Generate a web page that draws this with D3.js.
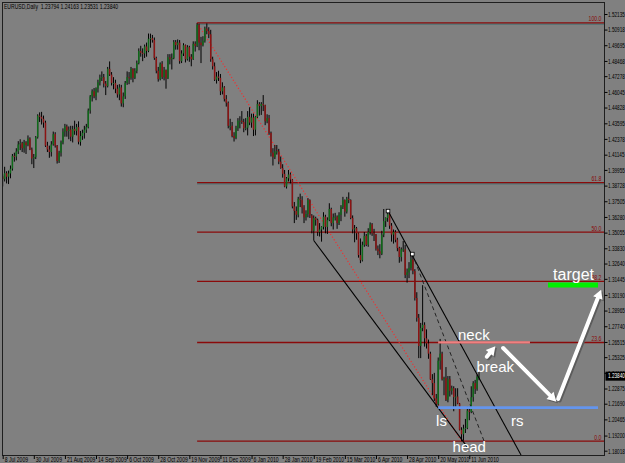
<!DOCTYPE html>
<html>
<head>
<meta charset="utf-8">
<script src="https://cdn.jsdelivr.net/npm/d3@7"></script>
<style>
  html, body { margin: 0; padding: 0; background: #808080; }
  svg { display: block; }
</style>
</head>
<body>
<svg id="chart" width="625" height="463"></svg>
<script>
// EURUSD daily, 8 Jul 2009 .. 18 Jun 2010 (one entry per trading day)
const opens = [
  1.3945,1.3925,1.3970,1.3942,1.3968,1.4005,1.4105,1.4100,1.4140,1.4195,1.4205,1.4165,1.4210,1.4190,1.4240,1.4155,1.4085,1.4095,
  1.4250,1.4420,1.4410,1.4395,1.4365,1.4185,1.4155,1.4135,1.4195,1.4275,1.4185,1.4065,1.4130,1.4210,1.4295,1.4335,1.4300,1.4310,1.4255,1.4315,1.4300,
  1.4330,1.4215,1.4260,1.4285,1.4310,1.4330,1.4460,1.4570,1.4610,1.4570,1.4630,1.4680,1.4715,1.4720,1.4670,1.4650,1.4785,1.4740,1.4675,1.4675,1.4630,1.4585,
  1.4640,1.4515,1.4570,1.4675,1.4720,1.4715,1.4785,1.4715,1.4770,1.4830,1.4925,1.4910,1.4905,1.4960,1.4925,1.5020,1.5025,1.5010,1.4870,1.4770,1.4705,1.4825,
  1.4720,1.4775,1.4710,1.4875,1.4860,1.4870,1.4995,1.4970,1.4990,1.4845,1.4905,1.4970,1.4860,1.4955,1.4880,1.4860,1.4980,1.4965,1.5130,1.4990,1.4970,
  1.5005,1.5100,1.5080,1.5055,1.4860,1.4805,1.4700,1.4725,1.4715,1.4610,1.4640,1.4550,1.4520,1.4340,1.4340,1.4260,1.4245,1.4320,1.4380,1.4380,1.4370,1.4320,
  1.4325,1.4410,1.4365,1.4405,1.4310,1.4410,1.4510,1.4495,1.4510,1.4500,1.4375,1.4400,1.4285,1.4130,1.4095,1.4140,1.4140,1.4060,1.4010,1.3965,
  1.3865,1.3930,1.3960,1.3920,1.3710,1.3675,1.3645,1.3770,1.3760,1.3700,1.3625,1.3650,1.3760,1.3640,1.3520,1.3620,1.3605,1.3510,1.3530,1.3550,
  1.3630,1.3550,1.3605,1.3690,1.3580,1.3625,1.3630,1.3580,1.3645,1.3705,1.3760,1.3670,1.3770,1.3760,1.3620,1.3530,1.3540,1.3500,1.3330,1.3290,1.3410,1.3480,1.3410,
  1.3510,1.3570,1.3500,1.3490,1.3380,1.3360,1.3340,1.3490,1.3595,1.3620,1.3650,1.3560,1.3490,1.3510,1.3450,1.3385,1.3315,1.3375,1.3375,1.3175,1.3195,1.3230,
  1.3295,1.3205,1.2995,1.2840,1.2620,1.2760,1.2785,1.2680,1.2640,1.2560,1.2360,1.2330,1.2210,1.2165,1.2505,1.2560,1.2360,1.2370,1.2200,1.2360,1.2270,
  1.2290,1.2220,1.2225,1.2170,1.1965,1.1930,1.1975,1.1980,1.2115,1.2105,1.2220,1.2330,1.2285,1.2379
];
const highs = [
  1.3960,1.4020,1.3985,1.3990,1.4030,1.4120,1.4130,1.4165,1.4220,1.4235,1.4215,1.4230,1.4220,1.4265,1.4250,1.4170,1.4120,1.4260,
  1.4430,1.4445,1.4449,1.4420,1.4380,1.4215,1.4185,1.4220,1.4295,1.4290,1.4190,1.4145,1.4225,1.4320,1.4355,1.4350,1.4335,1.4340,1.4340,1.4380,1.4355,
  1.4375,1.4300,1.4310,1.4340,1.4355,1.4475,1.4580,1.4625,1.4635,1.4640,1.4700,1.4740,1.4765,1.4745,1.4690,1.4800,1.4843,1.4760,1.4720,1.4700,1.4660,1.4665,
  1.4660,1.4600,1.4690,1.4765,1.4760,1.4800,1.4790,1.4790,1.4850,1.4945,1.4965,1.4945,1.4975,1.4990,1.5061,1.5060,1.5050,1.5030,1.4880,1.4800,1.4835,1.4845,
  1.4800,1.4780,1.4900,1.4900,1.4905,1.5010,1.5010,1.5015,1.5010,1.4930,1.4985,1.4975,1.4970,1.4965,1.4900,1.5000,1.5000,1.5144,1.5138,1.5035,1.5040,
  1.5115,1.5140,1.5110,1.5090,1.4880,1.4835,1.4760,1.4770,1.4745,1.4680,1.4650,1.4580,1.4530,1.4395,1.4370,1.4290,1.4340,1.4400,1.4415,1.4455,1.4395,1.4400,
  1.4455,1.4485,1.4435,1.4435,1.4415,1.4540,1.4525,1.4525,1.4580,1.4505,1.4430,1.4425,1.4295,1.4165,1.4190,1.4190,1.4160,1.4100,1.4040,1.3995,
  1.3940,1.3995,1.3975,1.3925,1.3745,1.3710,1.3785,1.3810,1.3790,1.3720,1.3680,1.3775,1.3765,1.3650,1.3640,1.3630,1.3615,1.3580,1.3555,1.3665,
  1.3645,1.3625,1.3735,1.3700,1.3655,1.3660,1.3640,1.3665,1.3720,1.3785,1.3765,1.3785,1.3820,1.3765,1.3640,1.3565,1.3550,1.3505,1.3460,1.3435,1.3510,1.3495,1.3540,
  1.3585,1.3580,1.3535,1.3495,1.3405,1.3415,1.3520,1.3690,1.3625,1.3690,1.3660,1.3580,1.3530,1.3525,1.3465,1.3395,1.3390,1.3440,1.3410,1.3225,1.3275,1.3350,
  1.3330,1.3220,1.3040,1.2870,1.2800,1.3095,1.2805,1.2750,1.2670,1.2575,1.2400,1.2410,1.2245,1.2530,1.2675,1.2575,1.2380,1.2455,1.2385,1.2385,1.2310,
  1.2305,1.2290,1.2290,1.2175,1.1985,1.2005,1.2050,1.2145,1.2145,1.2305,1.2345,1.2355,1.2395,1.2416
];
const lows = [
  1.3866,1.3905,1.3890,1.3885,1.3930,1.3990,1.4060,1.4070,1.4120,1.4150,1.4135,1.4130,1.4120,1.4180,1.4150,1.4040,1.4010,1.4080,
  1.4240,1.4370,1.4350,1.4325,1.4175,1.4135,1.4090,1.4100,1.4185,1.4170,1.4045,1.4050,1.4100,1.4195,1.4255,1.4255,1.4235,1.4220,1.4210,1.4270,1.4265,
  1.4195,1.4185,1.4230,1.4240,1.4285,1.4320,1.4435,1.4530,1.4555,1.4540,1.4600,1.4655,1.4690,1.4640,1.4580,1.4640,1.4730,1.4655,1.4625,1.4595,1.4560,1.4540,
  1.4490,1.4485,1.4550,1.4660,1.4665,1.4700,1.4680,1.4705,1.4750,1.4820,1.4880,1.4845,1.4870,1.4880,1.4915,1.4950,1.4990,1.4855,1.4750,1.4685,1.4695,1.4705,
  1.4695,1.4630,1.4705,1.4820,1.4780,1.4860,1.4935,1.4935,1.4825,1.4830,1.4885,1.4835,1.4850,1.4840,1.4805,1.4855,1.4920,1.4955,1.4930,1.4830,1.4960,
  1.4990,1.5055,1.5025,1.4840,1.4780,1.4690,1.4670,1.4690,1.4580,1.4585,1.4530,1.4490,1.4320,1.4305,1.4250,1.4217,1.4235,1.4300,1.4320,1.4355,1.4290,1.4305,
  1.4265,1.4345,1.4325,1.4260,1.4265,1.4400,1.4420,1.4425,1.4455,1.4345,1.4360,1.4270,1.4100,1.4030,1.4080,1.4115,1.4040,1.4005,1.3935,1.3860,
  1.3850,1.3905,1.3890,1.3695,1.3580,1.3605,1.3625,1.3705,1.3655,1.3580,1.3600,1.3625,1.3620,1.3500,1.3444,1.3560,1.3480,1.3475,1.3435,1.3530,
  1.3500,1.3495,1.3595,1.3555,1.3530,1.3600,1.3535,1.3565,1.3595,1.3690,1.3630,1.3655,1.3735,1.3610,1.3500,1.3430,1.3450,1.3310,1.3267,1.3280,1.3395,1.3400,1.3395,
  1.3490,1.3480,1.3440,1.3365,1.3330,1.3305,1.3330,1.3470,1.3550,1.3590,1.3535,1.3435,1.3420,1.3430,1.3360,1.3270,1.3280,1.3355,1.3150,1.3115,1.3150,1.3210,
  1.3180,1.2975,1.2810,1.2525,1.2525,1.2735,1.2615,1.2600,1.2520,1.2355,1.2235,1.2190,1.2145,1.2155,1.2435,1.2350,1.2235,1.2190,1.2180,1.2225,1.2240,
  1.2110,1.2145,1.2165,1.1960,1.1876,1.1880,1.1940,1.1970,1.2040,1.2095,1.2185,1.2245,1.2270,1.2353
];
const closes = [
  1.3925,1.3970,1.3942,1.3968,1.4005,1.4105,1.4100,1.4140,1.4195,1.4205,1.4165,1.4210,1.4190,1.4240,1.4155,1.4085,1.4095,1.4250,
  1.4420,1.4410,1.4395,1.4365,1.4185,1.4155,1.4135,1.4195,1.4275,1.4185,1.4065,1.4130,1.4210,1.4295,1.4335,1.4300,1.4310,1.4255,1.4315,1.4300,1.4330,
  1.4215,1.4260,1.4285,1.4310,1.4330,1.4460,1.4570,1.4610,1.4570,1.4630,1.4680,1.4715,1.4720,1.4670,1.4650,1.4785,1.4740,1.4675,1.4675,1.4630,1.4585,1.4640,
  1.4515,1.4570,1.4675,1.4720,1.4715,1.4785,1.4715,1.4770,1.4830,1.4925,1.4910,1.4905,1.4960,1.4925,1.5020,1.5025,1.5010,1.4870,1.4770,1.4705,1.4825,1.4720,
  1.4775,1.4710,1.4875,1.4860,1.4870,1.4995,1.4970,1.4990,1.4845,1.4905,1.4970,1.4860,1.4955,1.4880,1.4860,1.4980,1.4965,1.5130,1.4990,1.4970,1.5005,
  1.5100,1.5080,1.5055,1.4860,1.4805,1.4700,1.4725,1.4715,1.4610,1.4640,1.4550,1.4520,1.4340,1.4340,1.4260,1.4245,1.4320,1.4380,1.4380,1.4370,1.4320,1.4325,
  1.4410,1.4365,1.4405,1.4310,1.4410,1.4510,1.4495,1.4510,1.4500,1.4375,1.4400,1.4285,1.4130,1.4095,1.4140,1.4140,1.4060,1.4010,1.3965,1.3865,
  1.3930,1.3960,1.3920,1.3710,1.3675,1.3645,1.3770,1.3760,1.3700,1.3625,1.3650,1.3760,1.3640,1.3520,1.3620,1.3605,1.3510,1.3530,1.3550,1.3630,
  1.3550,1.3605,1.3690,1.3580,1.3625,1.3630,1.3580,1.3645,1.3705,1.3760,1.3670,1.3770,1.3760,1.3620,1.3530,1.3540,1.3500,1.3330,1.3290,1.3410,1.3480,1.3410,1.3510,
  1.3570,1.3500,1.3490,1.3380,1.3360,1.3340,1.3490,1.3595,1.3620,1.3650,1.3560,1.3490,1.3510,1.3450,1.3385,1.3315,1.3375,1.3375,1.3175,1.3195,1.3230,1.3295,
  1.3205,1.2995,1.2840,1.2620,1.2760,1.2785,1.2680,1.2640,1.2560,1.2360,1.2330,1.2210,1.2165,1.2505,1.2560,1.2360,1.2370,1.2200,1.2360,1.2270,1.2290,
  1.2220,1.2225,1.2170,1.1965,1.1930,1.1975,1.1980,1.2115,1.2105,1.2220,1.2330,1.2285,1.2380,1.2384
];

// time axis: a label every 16 bars
const dateLabels = ["8 Jul 2009","30 Jul 2009","21 Aug 2009","14 Sep 2009","6 Oct 2009","28 Oct 2009",
  "19 Nov 2009","11 Dec 2009","6 Jan 2010","28 Jan 2010","19 Feb 2010","15 Mar 2010","6 Apr 2010",
  "28 Apr 2010","20 May 2010","11 Jun 2010"];
const labelStep = 16;

const priceTicks = [1.52135,1.50918,1.49695,1.48468,1.47278,1.46045,1.44828,1.43595,1.42378,1.41145,
  1.39955,1.38728,1.37505,1.36280,1.35055,1.33830,1.32640,1.31445,1.30190,1.28965,1.27740,1.26515,
  1.25325,1.24100,1.22875,1.21690,1.20465,1.19200,1.18018];
const lastPrice = 1.23840;
const titleText = "EURUSD,Daily  1.23794 1.24163 1.23531 1.23840";

// fibo retracement, Nov 25 high -> Jun 7 low
const fibBars = [100, 236];
const fibPrices = [1.5144, 1.1876];
const fibLevels = [0, 23.6, 38.2, 50, 61.8, 100];

// drawn objects as [bar, price] points
const upperLine = [[198.2, 1.3674], [266.6, 1.1768]];
const lowerLine = [[160, 1.3444], [239, 1.1830]];
const dashLine = [[210.7, 1.3338], [247.6, 1.1877]];
const neckLine = [[224, 1.2648], [271.2, 1.2648]];
const shoulderLine = [[224, 1.2138], [306.2, 1.2138]];
const targetLine = [[280.5, 1.3096], [306.2, 1.3096]];
const arrows = [
  [[249.0, 1.2536], [253.4, 1.2618]],
  [[257.4, 1.2604], [284.8, 1.2184]],
  [[285.7, 1.2206], [307.8, 1.3060]]
];
const notes = [
  ["neck", 234.2, 1.2663],
  ["break", 243.7, 1.2420],
  ["ls", 222.9, 1.1998],
  ["rs", 261.5, 1.1998],
  ["head", 231.4, 1.1795],
  ["target", 283.1, 1.3135]
];

const W = 625, H = 463;
const plotLeft = 2.5, plotRight = 604.5, plotTop = 2.5, plotBottom = 455.5;
const font = "'Liberation Sans', Arial, sans-serif";

const svg = d3.select("#chart");

const x = d3.scaleLinear().domain([0, 240]).range([2.7, 469.3]);
const y = d3.scaleLinear().domain([priceTicks[priceTicks.length - 1], priceTicks[0]]).range([450.7, 14]);

svg.append("rect").attr("width", W).attr("height", H).attr("fill", "#808080");

svg.append("clipPath").attr("id", "plot")
  .append("rect")
  .attr("x", plotLeft).attr("y", plotTop)
  .attr("width", plotRight - plotLeft).attr("height", plotBottom - plotTop);

const plot = svg.append("g").attr("clip-path", "url(#plot)");

// fibo levels
const fibY = lv => y(fibPrices[1] + (fibPrices[0] - fibPrices[1]) * lv / 100);
fibLevels.forEach(lv => {
  if (lv === 100 || lv === 61.8) {
    plot.append("line")
      .attr("x1", x(fibBars[0])).attr("x2", plotRight)
      .attr("y1", fibY(lv) + 1.2).attr("y2", fibY(lv) + 1.2)
      .attr("stroke", "#3f6e70").attr("stroke-width", 1);
  }
  plot.append("line")
    .attr("x1", x(fibBars[0])).attr("x2", plotRight)
    .attr("y1", fibY(lv)).attr("y2", fibY(lv))
    .attr("stroke", "#8a0a0a").attr("stroke-width", 1.3);
  plot.append("text")
    .attr("transform", `translate(${plotRight - 3},${fibY(lv) - 1.5}) scale(0.8,1)`)
    .attr("text-anchor", "end")
    .attr("font-family", font).attr("font-size", 6.5)
    .attr("fill", "#8a0a0a")
    .text(lv.toFixed(1));
});

// fibo trend (dotted)
plot.append("line")
  .attr("x1", x(fibBars[0])).attr("y1", y(fibPrices[0]))
  .attr("x2", x(fibBars[1])).attr("y2", y(fibPrices[1]))
  .attr("stroke", "#f03030").attr("stroke-width", 1.2)
  .attr("stroke-dasharray", "1.2,2");

// candles
const idx = d3.range(closes.length);
const bar = plot.append("g");
bar.selectAll("line.wick").data(idx).join("line")
  .attr("class", "wick")
  .attr("x1", i => x(i)).attr("x2", i => x(i))
  .attr("y1", i => y(highs[i])).attr("y2", i => y(lows[i]))
  .attr("stroke", "#000").attr("stroke-width", 1);
bar.selectAll("rect.body").data(idx).join("rect")
  .attr("class", "body")
  .attr("x", i => x(i) - 0.75)
  .attr("width", 1.5)
  .attr("y", i => y(Math.max(opens[i], closes[i])))
  .attr("height", i => Math.max(1, Math.abs(y(opens[i]) - y(closes[i]))))
  .attr("fill", i => closes[i] >= opens[i] ? "#0f6a1a" : "#8c1414");

// trend lines
const lineGen = d3.line().x(d => x(d[0])).y(d => y(d[1]));
[upperLine, lowerLine].forEach(l => {
  plot.append("path").attr("d", lineGen(l))
    .attr("fill", "none").attr("stroke", "#000").attr("stroke-width", 1.1);
});
plot.append("path").attr("d", lineGen(dashLine))
  .attr("fill", "none").attr("stroke", "#1a1a1a").attr("stroke-width", 0.9)
  .attr("stroke-dasharray", "4,3");
[upperLine[0], dashLine[0]].forEach(p => {
  plot.append("rect")
    .attr("x", x(p[0]) - 1.8).attr("y", y(p[1]) - 1.8)
    .attr("width", 3.6).attr("height", 3.6)
    .attr("fill", "#fff").attr("stroke", "#000").attr("stroke-width", 0.8);
});

// head & shoulders sketch
plot.append("path").attr("d", lineGen(neckLine))
  .attr("stroke", "#f08080").attr("stroke-width", 2.2);
plot.append("path").attr("d", lineGen(shoulderLine))
  .attr("stroke", "#6495ed").attr("stroke-width", 2.6);
plot.append("path").attr("d", lineGen(targetLine))
  .attr("stroke", "#00f000").attr("stroke-width", 5);

function arrow(g, a, b, color, dx, dy) {
  const x1 = x(a[0]) + dx, y1 = y(a[1]) + dy, x2 = x(b[0]) + dx, y2 = y(b[1]) + dy;
  const ang = Math.atan2(y2 - y1, x2 - x1);
  const len = 9, half = 5;
  const bx = x2 - len * Math.cos(ang), by = y2 - len * Math.sin(ang);
  g.append("line").attr("x1", x1).attr("y1", y1).attr("x2", bx).attr("y2", by)
    .attr("stroke", color).attr("stroke-width", 4).attr("stroke-linecap", "round");
  g.append("path")
    .attr("d", `M${x2},${y2}L${bx - half * Math.sin(ang)},${by + half * Math.cos(ang)}L${bx + half * Math.sin(ang)},${by - half * Math.cos(ang)}Z`)
    .attr("fill", color);
}
arrows.forEach(a => arrow(plot, a[0], a[1], "#5c5c5c", 1.5, 1.5));
arrows.forEach(a => arrow(plot, a[0], a[1], "#ffffff", 0, 0));

notes.forEach(n => {
  plot.append("text")
    .attr("x", x(n[1])).attr("y", y(n[2]))
    .attr("font-family", font)
    .attr("font-size", n[0] === "target" ? 16 : 15)
    .attr("fill", "#fff")
    .text(n[0]);
});

// frame
svg.append("rect")
  .attr("x", plotLeft).attr("y", plotTop)
  .attr("width", plotRight - plotLeft).attr("height", plotBottom - plotTop)
  .attr("fill", "none").attr("stroke", "#1e1e1e").attr("stroke-width", 1);

// price axis
svg.append("g")
  .attr("transform", `translate(${plotRight},0)`)
  .call(d3.axisRight(y).tickValues(priceTicks).tickSize(3).tickFormat(d3.format(".5f")))
  .call(g => g.select(".domain").remove())
  .call(g => g.selectAll(".tick line").attr("stroke", "#000"))
  .call(g => g.selectAll(".tick text")
    .attr("x", null).attr("dy", null)
    .attr("transform", "translate(3.5,2.3) scale(0.72,1)")
    .attr("font-family", font).attr("font-size", 6.5).attr("fill", "#000"));

// last price box
const lp = svg.append("g").attr("transform", `translate(${plotRight + 1},${y(lastPrice)})`);
lp.append("rect").attr("x", 0).attr("y", -4.5).attr("width", 20).attr("height", 9).attr("fill", "#000");
lp.append("text").attr("transform", "translate(2.5,2.3) scale(0.72,1)")
  .attr("font-family", font).attr("font-size", 6.5).attr("fill", "#fff")
  .text(d3.format(".5f")(lastPrice));

// time axis
svg.append("g")
  .attr("transform", `translate(0,${plotBottom})`)
  .call(d3.axisBottom(x).tickValues(dateLabels.map((d, i) => i * labelStep))
    .tickSize(3.5).tickFormat((d, i) => dateLabels[i]))
  .call(g => g.select(".domain").remove())
  .call(g => g.selectAll(".tick line").attr("stroke", "#000"))
  .call(g => g.selectAll(".tick text")
    .attr("y", null).attr("dy", null)
    .attr("text-anchor", "start")
    .attr("transform", "translate(1.5,6.3) scale(0.78,1)")
    .attr("font-family", font).attr("font-size", 6.5).attr("fill", "#000"));

svg.append("text")
  .attr("transform", "translate(4,9) scale(0.78,1)")
  .attr("font-family", font).attr("font-size", 6.5).attr("fill", "#000")
  .attr("xml:space", "preserve")
  .text(titleText);
</script>
</body>
</html>
